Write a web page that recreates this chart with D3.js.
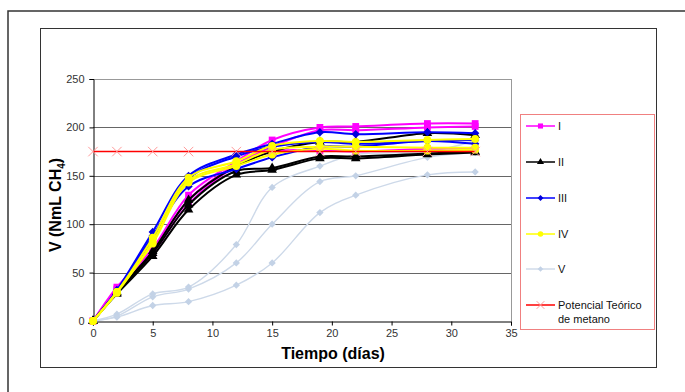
<!DOCTYPE html>
<html>
<head>
<meta charset="utf-8">
<script src="https://cdn.jsdelivr.net/npm/d3@7"></script>
<style>
  body { margin: 0; background: #fff; }
  svg { font-family: "Liberation Sans", Arial, sans-serif; }
</style>
</head>
<body>
<svg width="685" height="392"></svg>
<script>
// days of measurement
var dias = [0, 2, 5, 8, 12, 15, 19, 22, 28, 32];

// replicates per treatment (NmL CH4)
var serieI = [
    [0, 35, 75, 130, 165, 187, 200, 201, 204, 204],
    [0, 33, 72, 125, 162, 180, 197, 197, 200, 201],
    [0, 31, 70, 121, 160, 175, 176, 175, 178, 178]
];
var serieII = [
    [0, 28, 67, 115, 151, 156, 168, 168, 172, 174],
    [0, 29, 70, 120, 155, 158, 170, 170, 173, 175],
    [0, 30, 72, 125, 160, 175, 185, 185, 194, 192]
];
var serieIII = [
    [0, 32, 92, 150, 172, 183, 195, 193, 195, 194],
    [0, 31, 88, 139, 157, 169, 180, 180, 186, 183],
    [0, 30, 85, 147, 170, 180, 185, 183, 186, 187]
];
var serieIV = [
    [0, 30, 86, 148, 165, 181, 186, 185, 187, 188],
    [0, 29, 82, 145, 162, 177, 180, 180, 179, 179],
    [0, 30, 80, 143, 160, 172, 178, 176, 176, 177]
];
var serieV = [
    [0, 7, 28, 35, 79, 138, 160, 172, 175, 186],
    [0, 5, 25, 33, 60, 100, 144, 150, 169, 174],
    [0, 4, 16, 20, 37, 60, 112, 130, 151, 154]
];
var potencial = [175, 175, 175, 175, 175, 175, 175, 175, 175, 175];

var xTicks = [0, 5, 10, 15, 20, 25, 30, 35];
var yTicks = [0, 50, 100, 150, 200, 250];

var svg = d3.select("svg");

// outer frame and chart box
svg.append("rect").attr("x", 8).attr("y", 11).attr("width", 700).attr("height", 400)
    .attr("fill", "none").attr("stroke", "#333").attr("stroke-width", 1.5);
svg.append("rect").attr("x", 40.5).attr("y", 28.5).attr("width", 616).attr("height", 339)
    .attr("fill", "#fff").attr("stroke", "#333").attr("stroke-width", 1);

var x = d3.scaleLinear().domain([0, 35]).range([93, 511]);
var y = d3.scaleLinear().domain([0, 250]).range([321, 79]);

// gridlines
svg.append("g").selectAll("line").data(yTicks.slice(1)).enter().append("line")
    .attr("x1", x(0)).attr("x2", x(35))
    .attr("y1", function(d) { return Math.round(y(d)) + 0.5; })
    .attr("y2", function(d) { return Math.round(y(d)) + 0.5; })
    .attr("stroke", function(d) { return d == 250 ? "#999" : "#666"; })
    .attr("stroke-width", 1);
svg.append("line").attr("x1", x(35) + 0.5).attr("x2", x(35) + 0.5)
    .attr("y1", y(250)).attr("y2", y(0)).attr("stroke", "#999");

// axes
var xAxis = svg.append("g").attr("transform", "translate(0," + (Math.round(y(0)) + 0.5) + ")")
    .call(d3.axisBottom(x).tickValues(xTicks).tickSize(4).tickPadding(4));
var yAxis = svg.append("g").attr("transform", "translate(" + (x(0) + 0.5) + ",0)")
    .call(d3.axisLeft(y).tickValues(yTicks).tickSize(4).tickPadding(5));
[xAxis, yAxis].forEach(function(a) {
    a.select(".domain").attr("stroke", "#000");
    a.selectAll(".tick line").attr("stroke", "#000");
    a.selectAll("text").attr("fill", "#333").style("font-size", "11px")
        .style("font-family", "Liberation Sans, Arial, sans-serif");
});

svg.append("text").attr("x", 333).attr("y", 359).attr("text-anchor", "middle")
    .style("font-size", "16px").style("font-weight", "bold").text("Tiempo (días)");

var yt = svg.append("text").attr("transform", "translate(61,205) rotate(-90)")
    .attr("text-anchor", "middle").style("font-size", "16px").style("font-weight", "bold");
yt.append("tspan").text("V (NmL CH");
yt.append("tspan").attr("dy", 4).style("font-size", "10px").text("4");
yt.append("tspan").attr("dy", -4).text(")");

var line = d3.line()
    .x(function(d, i) { return x(dias[i]); })
    .y(function(d) { return y(d); })
    .curve(d3.curveCatmullRom.alpha(0.5));

var series = [
    {name: "V", data: serieV, color: "#cdd9e9", mark: "#c3d2e6", sym: d3.symbolDiamond2, size: 34, w: 1.4},
    {name: "I", data: serieI, color: "#ff00ff", mark: "#ff00ff", sym: d3.symbolSquare, size: 46, w: 2},
    {name: "II", data: serieII, color: "#000", mark: "#000", sym: d3.symbolTriangle, size: 40, w: 2},
    {name: "III", data: serieIII, color: "#0000ff", mark: "#0000dd", sym: d3.symbolDiamond2, size: 44, w: 2},
    {name: "IV", data: serieIV, color: "#ffff00", mark: "#ffff00", sym: d3.symbolCircle, size: 48, w: 2}
];

series.forEach(function(s) {
    var g = svg.append("g");
    s.data.forEach(function(rep) {
        g.append("path").attr("d", line(rep)).attr("fill", "none")
            .attr("stroke", s.color).attr("stroke-width", s.w);
        g.selectAll(null).data(rep).enter().append("path")
            .attr("transform", function(d, i) { return "translate(" + x(dias[i]) + "," + y(d) + ")"; })
            .attr("d", d3.symbol().type(s.sym).size(s.size))
            .attr("fill", s.mark);
    });
});

// theoretical potential
var gp = svg.append("g");
gp.append("path").attr("d", line(potencial)).attr("fill", "none")
    .attr("stroke", "#ff0000").attr("stroke-width", 1.5);
gp.selectAll(null).data(potencial).enter().append("path")
    .attr("transform", function(d, i) { return "translate(" + x(dias[i]) + "," + y(d) + ")"; })
    .attr("d", d3.symbol().type(d3.symbolX).size(60))
    .attr("fill", "none").attr("stroke", "#ff9a9a").attr("stroke-width", 1);

// legend
var legend = [
    {label: ["I"], color: "#ff00ff", mark: "#ff00ff", sym: d3.symbolSquare, size: 26, y: 126},
    {label: ["II"], color: "#000", mark: "#000", sym: d3.symbolTriangle, size: 22, y: 162},
    {label: ["III"], color: "#0000ff", mark: "#0000dd", sym: d3.symbolDiamond2, size: 22, y: 198},
    {label: ["IV"], color: "#ffff00", mark: "#ffff00", sym: d3.symbolCircle, size: 24, y: 234},
    {label: ["V"], color: "#cdd9e9", mark: "#c3d2e6", sym: d3.symbolDiamond2, size: 20, y: 269},
    {label: ["Potencial Teórico", "de metano"], color: "#ff0000", mark: "#ff9a9a", sym: d3.symbolX, size: 40, y: 305}
];
svg.append("rect").attr("x", 520.5).attr("y", 114.5).attr("width", 134).attr("height", 215)
    .attr("fill", "#fff").attr("stroke", "#f08080").attr("stroke-width", 1);
var lg = svg.append("g").selectAll("g").data(legend).enter().append("g")
    .attr("transform", function(d) { return "translate(0," + d.y + ")"; });
lg.append("line").attr("x1", 526).attr("x2", 555).attr("stroke", function(d) { return d.color; })
    .attr("stroke-width", function(d) { return d.label[0] == "V" ? 1.4 : 1.5; });
lg.append("path").attr("transform", "translate(540.5,0)")
    .attr("d", function(d) { return d3.symbol().type(d.sym).size(d.size)(); })
    .attr("fill", function(d) { return d.sym == d3.symbolX ? "none" : d.mark; })
    .attr("stroke", function(d) { return d.sym == d3.symbolX ? d.mark : "none"; });
lg.each(function(d) {
    var t = d3.select(this).append("text").attr("x", 558).attr("y", 4)
        .style("font-size", "11px").attr("fill", "#111");
    d.label.forEach(function(l, i) {
        t.append("tspan").attr("x", 558).attr("dy", i == 0 ? 0 : 14).text(l);
    });
});
</script>
</body>
</html>
